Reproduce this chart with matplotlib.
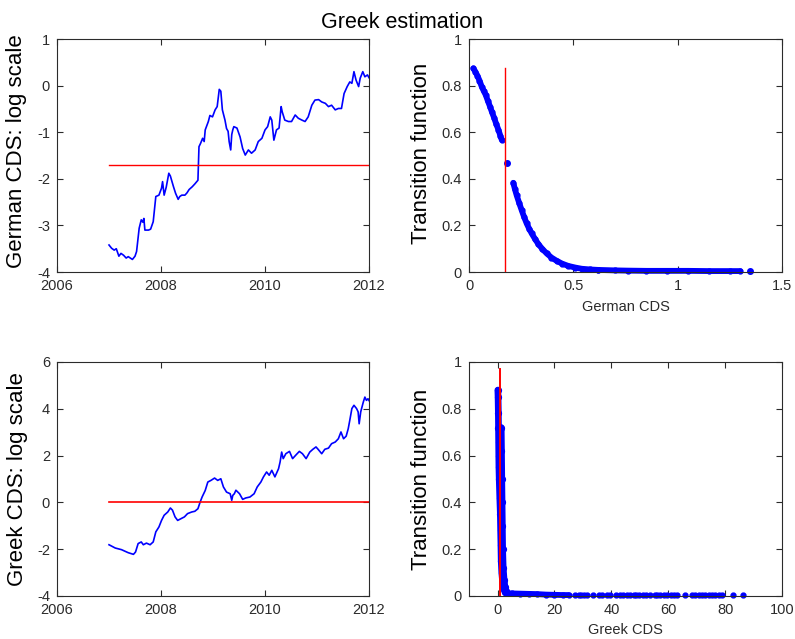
import numpy as np
import matplotlib
matplotlib.use('Agg')
import matplotlib.pyplot as plt
from matplotlib.ticker import FuncFormatter

plt.rcParams['font.family'] = ['Liberation Sans', 'DejaVu Sans']

# ---------------- data ----------------
# German CDS, log scale (decimal years)
ger_year = [2007.00, 2007.05, 2007.10, 2007.14, 2007.19, 2007.23, 2007.28, 2007.33, 2007.37, 2007.45,
            2007.50, 2007.53, 2007.58, 2007.62, 2007.65, 2007.67, 2007.69, 2007.76, 2007.80, 2007.85,
            2007.90, 2007.96, 2008.01, 2008.03, 2008.06, 2008.10, 2008.15, 2008.18, 2008.24, 2008.28,
            2008.33, 2008.36, 2008.40, 2008.46, 2008.50, 2008.54, 2008.60, 2008.65, 2008.71, 2008.73,
            2008.76, 2008.80, 2008.83, 2008.85, 2008.91, 2008.94, 2008.99, 2009.04, 2009.08, 2009.12,
            2009.15, 2009.18, 2009.23, 2009.26, 2009.29, 2009.31, 2009.34, 2009.36, 2009.38, 2009.40,
            2009.46, 2009.52, 2009.57, 2009.62, 2009.68, 2009.74, 2009.81, 2009.87, 2009.94, 2010.00,
            2010.05, 2010.10, 2010.13, 2010.17, 2010.22, 2010.27, 2010.31, 2010.33, 2010.38, 2010.45,
            2010.51, 2010.58, 2010.64, 2010.71, 2010.77, 2010.83, 2010.90, 2010.96, 2011.03, 2011.09,
            2011.16, 2011.22, 2011.28, 2011.35, 2011.41, 2011.47, 2011.52, 2011.58, 2011.63, 2011.67,
            2011.71, 2011.75, 2011.80, 2011.83, 2011.88, 2011.92, 2011.97, 2012.00]
ger_log = [-3.42, -3.49, -3.53, -3.50, -3.66, -3.60, -3.64, -3.70, -3.67, -3.73,
           -3.66, -3.56, -3.06, -2.88, -2.93, -2.85, -3.10, -3.10, -3.08, -2.92,
           -2.38, -2.35, -2.20, -2.06, -2.35, -2.18, -1.88, -1.94, -2.17, -2.31,
           -2.44, -2.38, -2.35, -2.35, -2.30, -2.23, -2.17, -2.11, -2.03, -1.31,
           -1.24, -1.13, -1.20, -0.95, -0.77, -0.64, -0.67, -0.52, -0.45, -0.08,
           -0.12, -0.52, -0.74, -0.92, -0.98, -1.20, -1.38, -1.05, -0.95, -0.88,
           -0.91, -1.10, -1.35, -1.49, -1.38, -1.45, -1.38, -1.20, -1.13, -0.95,
           -0.88, -0.67, -0.74, -1.17, -0.95, -0.91, -0.45, -0.56, -0.74, -0.77,
           -0.77, -0.63, -0.70, -0.74, -0.77, -0.67, -0.42, -0.31, -0.30, -0.35,
           -0.38, -0.45, -0.42, -0.52, -0.49, -0.49, -0.17, -0.02, 0.08, 0.05,
           0.30, 0.12, -0.02, 0.16, 0.30, 0.19, 0.23, 0.17]
ger_thresh_log = -1.71

# Greek CDS, log scale
grk_year = [2007.00, 2007.12, 2007.24, 2007.37, 2007.47, 2007.51, 2007.56, 2007.62, 2007.66, 2007.72,
            2007.79, 2007.85, 2007.90, 2007.96, 2008.01, 2008.06, 2008.13, 2008.18, 2008.22, 2008.27,
            2008.32, 2008.38, 2008.45, 2008.51, 2008.59, 2008.65, 2008.71, 2008.75, 2008.79, 2008.85,
            2008.90, 2008.96, 2009.03, 2009.09, 2009.15, 2009.20, 2009.26, 2009.33, 2009.36, 2009.38,
            2009.41, 2009.44, 2009.51, 2009.57, 2009.63, 2009.71, 2009.79, 2009.85, 2009.92, 2009.97,
            2010.03, 2010.08, 2010.13, 2010.19, 2010.26, 2010.29, 2010.32, 2010.35, 2010.40, 2010.47,
            2010.53, 2010.60, 2010.66, 2010.72, 2010.79, 2010.86, 2010.92, 2010.98, 2011.02, 2011.09,
            2011.15, 2011.22, 2011.28, 2011.35, 2011.41, 2011.46, 2011.51, 2011.56, 2011.60, 2011.63,
            2011.67, 2011.71, 2011.76, 2011.79, 2011.81, 2011.84, 2011.89, 2011.92, 2011.95, 2011.98,
            2012.00]
grk_log = [-1.81, -1.95, -2.02, -2.15, -2.22, -2.12, -1.76, -1.69, -1.81, -1.74,
           -1.81, -1.69, -1.26, -1.05, -0.77, -0.55, -0.41, -0.24, -0.33, -0.62,
           -0.77, -0.70, -0.62, -0.48, -0.41, -0.38, -0.27, 0.00, 0.23, 0.51,
           0.87, 0.94, 1.04, 0.94, 1.01, 0.66, 0.44, 0.37, 0.09, 0.30,
           0.37, 0.52, 0.37, 0.13, 0.19, 0.23, 0.37, 0.66, 0.87, 1.09,
           1.30, 1.16, 1.37, 1.09, 1.44, 1.73, 2.15, 1.87, 2.08, 2.18,
           1.87, 2.04, 2.18, 2.08, 1.87, 2.15, 2.27, 2.37, 2.27, 2.08,
           2.27, 2.32, 2.51, 2.58, 2.72, 3.01, 2.72, 2.83, 3.15, 3.51,
           4.01, 4.15, 4.01, 3.87, 3.36, 3.87, 4.29, 4.50, 4.36, 4.43,
           4.35]
grk_thresh_log = 0.0

# transition function vs German CDS
ger_up_x = [0.021, 0.030, 0.040, 0.050, 0.061, 0.070, 0.080, 0.090, 0.101, 0.110, 0.121, 0.130, 0.141, 0.150, 0.157]
ger_up_y = [0.874, 0.860, 0.843, 0.822, 0.795, 0.778, 0.760, 0.735, 0.709, 0.686, 0.660, 0.636, 0.610, 0.585, 0.567]
ger_mid_x = [0.184]
ger_mid_y = [0.469]
ger_low_x = [0.212, 0.220, 0.228, 0.240, 0.252, 0.264, 0.276, 0.288, 0.300, 0.316, 0.332,
             0.352, 0.372, 0.395, 0.420, 0.446, 0.476, 0.510, 0.540, 0.580, 0.620]
ger_low_y = [0.383, 0.355, 0.330, 0.297, 0.266, 0.236, 0.209, 0.186, 0.166, 0.142, 0.120,
             0.098, 0.080, 0.062, 0.048, 0.036, 0.026, 0.019, 0.014, 0.011, 0.009]
ger_tail_x = [0.62, 0.70, 0.76, 0.85, 0.95, 1.05, 1.15, 1.25, 1.30]
ger_tail_y = [0.009, 0.007, 0.006, 0.005, 0.005, 0.005, 0.004, 0.004, 0.004]
ger_last_x = [1.346]
ger_last_y = [0.005]
ger_thresh = 0.173
ger_line_top = 0.874

# transition function vs Greek CDS
grk_left_x = [0.12, 0.20, 0.30, 0.35, 0.40, 0.45, 0.50, 0.60, 0.80, 1.00, 1.10, 1.20, 1.30, 1.50, 1.80, 2.20, 2.70]
grk_left_y = [0.88, 0.85, 0.78, 0.72, 0.66, 0.60, 0.55, 0.50, 0.42, 0.35, 0.28, 0.22, 0.15, 0.10, 0.06, 0.03, 0.015]
grk_right_x = [1.30, 1.40, 1.50, 1.60, 1.70, 1.80, 2.00, 2.30, 2.60, 3.00]
grk_right_y = [0.72, 0.62, 0.50, 0.40, 0.30, 0.20, 0.12, 0.07, 0.04, 0.02]
grk_tail_x = [2.9, 5.0, 8.0, 11.0, 14.0, 17.0, 20.0, 23.0, 25.0]
grk_tail_y = [0.012, 0.011, 0.010, 0.009, 0.008, 0.006, 0.005, 0.004, 0.004]
grk_pts_x = [27.4, 28.5, 29.5, 30.5, 31.5, 33.5, 35.5, 36.8, 38.5, 39.7, 41.8, 43.0, 44.2, 45.4,
             46.6, 47.8, 48.5, 49.7, 51.0, 52.3, 53.5, 55.5, 56.0, 57.2, 58.4, 59.6, 60.8, 62.0,
             63.1, 65.8, 68.3, 69.5, 70.7, 71.9, 73.0, 74.2, 75.4, 76.6, 77.8, 78.9, 82.7, 86.2]
grk_pts_y = [0.004, 0.004, 0.004, 0.004, 0.004, 0.004, 0.004, 0.004, 0.004, 0.004, 0.004, 0.004, 0.004, 0.004,
             0.004, 0.004, 0.004, 0.004, 0.004, 0.004, 0.004, 0.004, 0.004, 0.004, 0.004, 0.004, 0.004, 0.004,
             0.004, 0.004, 0.004, 0.004, 0.004, 0.004, 0.004, 0.004, 0.004, 0.004, 0.004, 0.004, 0.004, 0.004]
grk_thresh = 1.0
grk_line_top = 0.97

BLUE = '#0000ff'
RED = '#ff0000'
AXC = '#2b2b2b'

fig = plt.figure(figsize=(7.95, 6.39), dpi=100)
ax1 = fig.add_axes([0.0717, 0.5743, 0.3925, 0.3646])
ax2 = fig.add_axes([0.5900, 0.5743, 0.3937, 0.3646])
ax3 = fig.add_axes([0.0717, 0.0673, 0.3925, 0.3662])
ax4 = fig.add_axes([0.5900, 0.0673, 0.3937, 0.3662])

fmt = FuncFormatter(lambda v, p: '{:g}'.format(round(v, 6)))


def style(ax):
    for s in ax.spines.values():
        s.set_color(AXC)
        s.set_linewidth(0.8)
    ax.tick_params(direction='in', top=True, right=True, length=4, width=0.8,
                   colors=AXC, labelsize=10.5, pad=5)
    ax.xaxis.set_major_formatter(fmt)
    ax.yaxis.set_major_formatter(fmt)


# top left: German series
ax1.plot(ger_year, ger_log, color=BLUE, lw=1.2)
ax1.plot([ger_year[0], ger_year[-1]], [ger_thresh_log, ger_thresh_log], color=RED, lw=1.0)
ax1.set_xlim(2006, 2012)
ax1.set_ylim(-4, 1)
ax1.set_xticks([2006, 2008, 2010, 2012])
ax1.set_yticks([-4, -3, -2, -1, 0, 1])
ax1.set_ylabel('German CDS: log scale', fontsize=16)
ax1.yaxis.set_label_coords(-0.095, 0.52)
style(ax1)

# top right: transition vs German CDS
mk = dict(color=BLUE, marker='o', ms=3.5, mec=BLUE, lw=4.2, solid_capstyle='round', clip_on=False)
ax2.plot(ger_up_x, ger_up_y, **mk)
ax2.plot(ger_mid_x, ger_mid_y, 'o', color=BLUE, ms=4, clip_on=False)
ax2.plot(ger_low_x, ger_low_y, **mk)
ax2.plot(ger_tail_x, ger_tail_y, **mk)
ax2.plot(ger_last_x, ger_last_y, 'o', color=BLUE, ms=4, clip_on=False)
ax2.plot([ger_thresh, ger_thresh], [0, ger_line_top], color=RED, lw=1.0, zorder=10)
ax2.set_xlim(0, 1.5)
ax2.set_ylim(0, 1)
ax2.set_xticks([0, 0.5, 1, 1.5])
ax2.set_yticks([0, 0.2, 0.4, 0.6, 0.8, 1])
ax2.set_xlabel('German CDS', fontsize=10.5, color=AXC)
ax2.xaxis.set_label_coords(0.5, -0.12)
ax2.xaxis.label.set_va('top')
ax2.set_ylabel('Transition function', fontsize=16)
ax2.yaxis.set_label_coords(-0.118, 0.51)
style(ax2)

# bottom left: Greek series
ax3.plot(grk_year, grk_log, color=BLUE, lw=1.2)
ax3.plot([grk_year[0], grk_year[-1]], [grk_thresh_log, grk_thresh_log], color=RED, lw=1.2)
ax3.set_xlim(2006, 2012)
ax3.set_ylim(-4, 6)
ax3.set_xticks([2006, 2008, 2010, 2012])
ax3.set_yticks([-4, -2, 0, 2, 4, 6])
ax3.set_ylabel('Greek CDS: log scale', fontsize=16)
ax3.yaxis.set_label_coords(-0.093, 0.50)
style(ax3)

# bottom right: transition vs Greek CDS
mk_g = dict(mk, lw=4.8, ms=4.2)
ax4.plot(grk_left_x, grk_left_y, **mk_g)
ax4.plot(grk_right_x, grk_right_y, **mk_g)
ax4.plot(grk_tail_x, grk_tail_y, **mk)
ax4.plot(grk_pts_x, grk_pts_y, 'o', color=BLUE, ms=3.5, clip_on=False)
ax4.plot([grk_thresh, grk_thresh], [0, grk_line_top], color=RED, lw=1.4, zorder=10)
ax4.set_xlim(-10, 100)
ax4.set_ylim(0, 1)
ax4.set_xticks([0, 20, 40, 60, 80, 100])
ax4.set_yticks([0, 0.2, 0.4, 0.6, 0.8, 1])
ax4.set_xlabel('Greek CDS', fontsize=10.5, color=AXC)
ax4.xaxis.set_label_coords(0.5, -0.115)
ax4.xaxis.label.set_va('top')
ax4.set_ylabel('Transition function', fontsize=16)
ax4.yaxis.set_label_coords(-0.118, 0.50)
style(ax4)

fig.text(0.506, 1 - 28 / 639, 'Greek estimation', ha='center', va='baseline', fontsize=15.5)

fig.savefig('out.png', dpi=100)
